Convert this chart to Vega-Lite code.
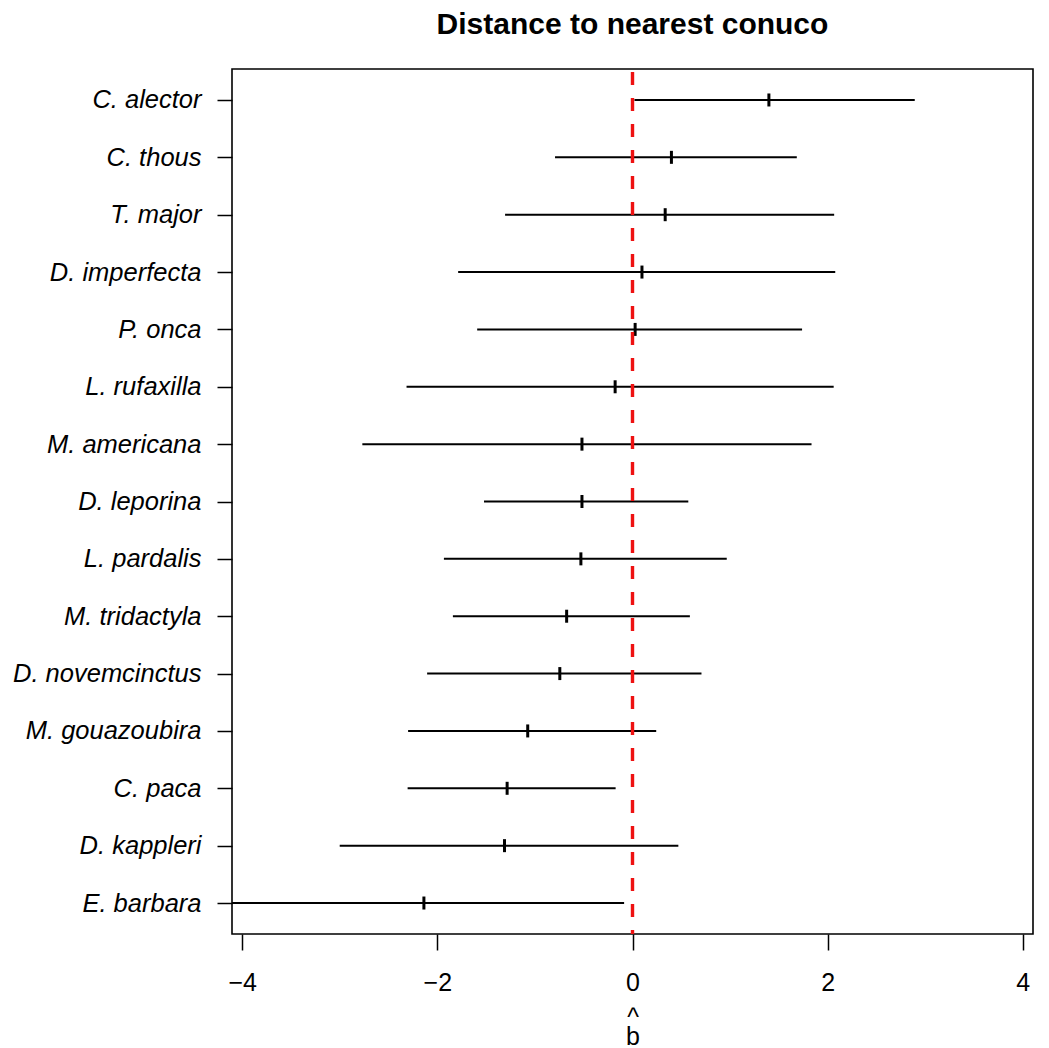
{
  "$schema": "https://vega.github.io/schema/vega-lite/v6.json",
  "autosize": {"type": "none"},
  "padding": {"left": 232, "top": 69, "right": 16, "bottom": 114},
  "width": 801,
  "height": 865,
  "background": "white",
  "title": {"text": "Distance to nearest conuco", "font": "Liberation Sans", "fontSize": 30, "fontWeight": "bold", "color": "black", "anchor": "middle", "baseline": "bottom", "offset": 30, "dy": 33},
  "config": {
    "view": {"stroke": "black", "strokeWidth": 1.6},
    "axis": {"labelFont": "Liberation Sans", "titleFont": "Liberation Sans", "labelColor": "black", "titleColor": "black", "tickColor": "black", "grid": false, "domain": false}
  },
  "data": {"values": [
    {"species": "C. alector", "est": 1.398, "lo": 0.02, "hi": 2.893},
    {"species": "C. thous", "est": 0.399, "lo": -0.794, "hi": 1.684},
    {"species": "T. major", "est": 0.335, "lo": -1.306, "hi": 2.067},
    {"species": "D. imperfecta", "est": 0.097, "lo": -1.787, "hi": 2.078},
    {"species": "P. onca ", "est": 0.027, "lo": -1.592, "hi": 1.738},
    {"species": "L. rufaxilla", "est": -0.178, "lo": -2.316, "hi": 2.062},
    {"species": "M. americana", "est": -0.518, "lo": -2.769, "hi": 1.835},
    {"species": "D. leporina", "est": -0.518, "lo": -1.522, "hi": 0.572},
    {"species": "L. pardalis", "est": -0.529, "lo": -1.933, "hi": 0.966},
    {"species": "M. tridactyla", "est": -0.675, "lo": -1.841, "hi": 0.588},
    {"species": "D. novemcinctus", "est": -0.745, "lo": -2.105, "hi": 0.707},
    {"species": "M. gouazoubira", "est": -1.074, "lo": -2.3, "hi": 0.243},
    {"species": "C. paca", "est": -1.285, "lo": -2.305, "hi": -0.173},
    {"species": "D. kappleri", "est": -1.312, "lo": -3.001, "hi": 0.47},
    {"species": "E. barbara", "est": -2.138, "lo": -4.3, "hi": -0.086}
  ]},
  "encoding": {
    "y": {"field": "species", "type": "nominal", "sort": null,
      "scale": {"type": "point", "padding": 0.54},
      "axis": {"title": null, "labelFontSize": 25.5, "labelFontStyle": "italic", "tickSize": 15, "tickWidth": 1.5, "labelPadding": 16, "labelLimit": 300}}
  },
  "layer": [
    {
      "mark": {"type": "rule", "color": "black", "strokeWidth": 2, "clip": true},
      "encoding": {
        "x": {"field": "lo", "type": "quantitative",
          "scale": {"domain": [-4.105, 4.105], "nice": false, "zero": false},
          "axis": {"values": [-4, -2, 0, 2, 4], "format": "d", "labelFontSize": 25, "tickSize": 16, "tickWidth": 1.5, "labelPadding": 20, "title": ["^", "b"], "titleFontSize": 25, "titleFontWeight": "normal", "titleLineHeight": 19, "titlePadding": 10}},
        "x2": {"field": "hi"}
      }
    },
    {
      "mark": {"type": "tick", "orient": "vertical", "color": "black", "size": 13, "thickness": 3, "opacity": 1},
      "encoding": {"x": {"field": "est", "type": "quantitative"}}
    },
    {
      "data": {"values": [{"v": 0}]},
      "mark": {"type": "rule", "color": "#ee1111", "strokeWidth": 3.4, "strokeDash": [13, 13], "strokeDashOffset": -3},
      "encoding": {"x": {"field": "v", "type": "quantitative"}, "y": null}
    }
  ]
}
